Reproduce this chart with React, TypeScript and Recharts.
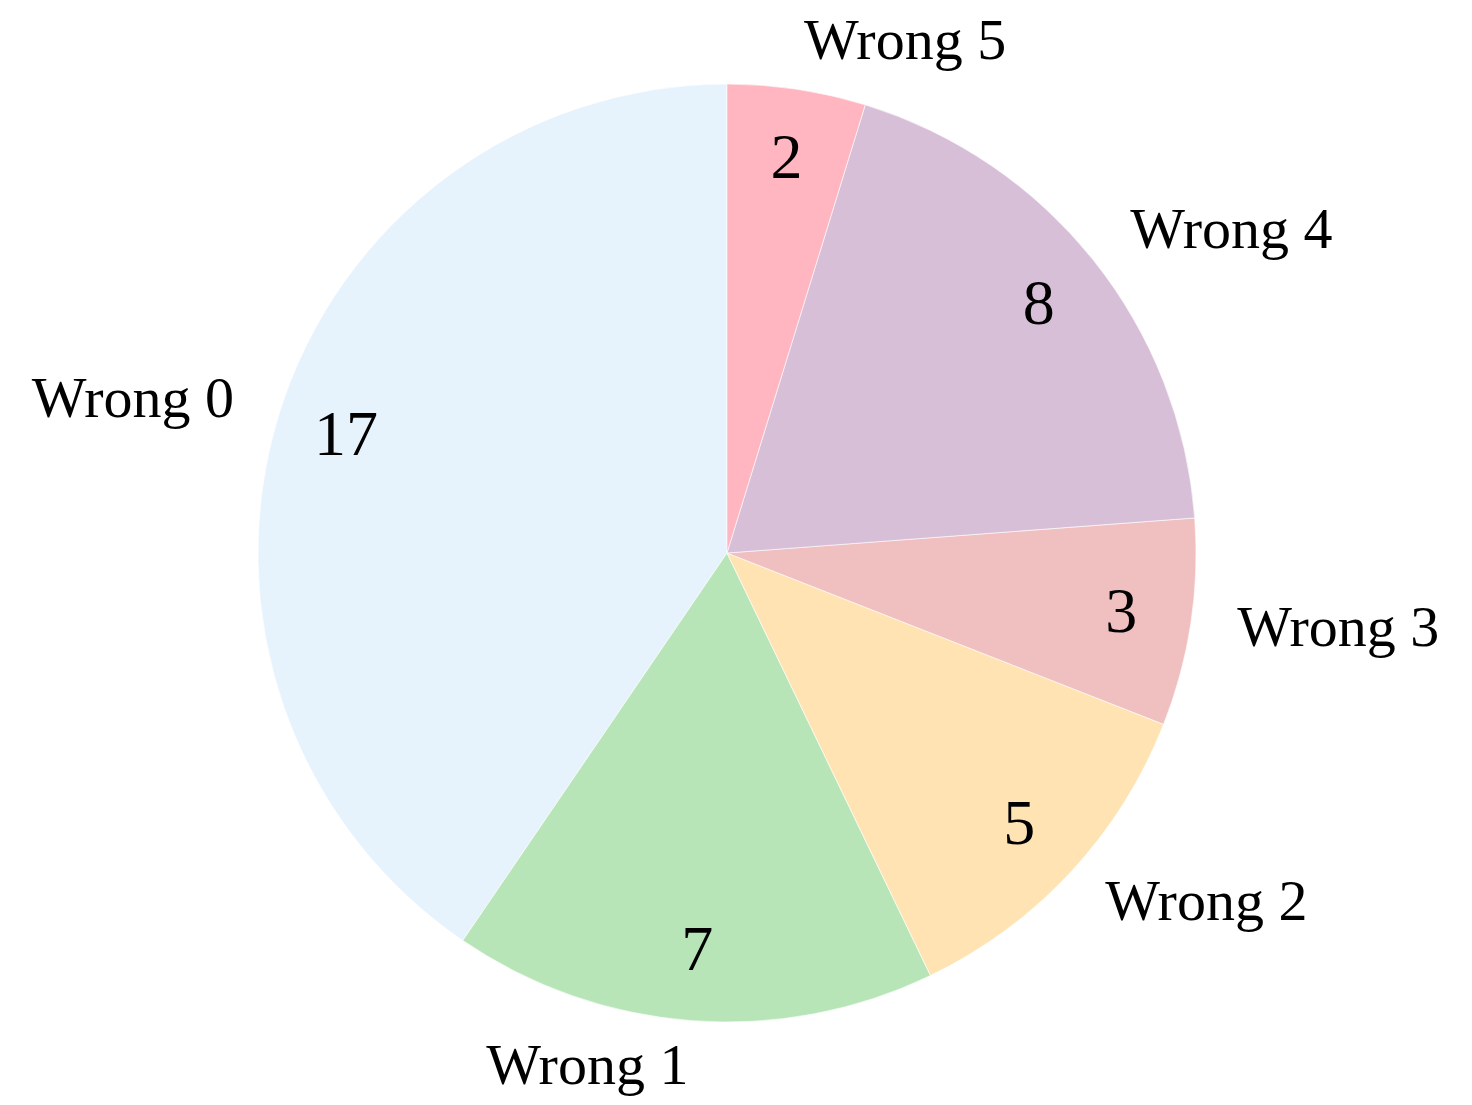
import React from 'react';
import { PieChart, Pie, Cell } from 'recharts';

const labels = ['Wrong 0', 'Wrong 1', 'Wrong 2', 'Wrong 3', 'Wrong 4', 'Wrong 5'];
const counts = [17, 7, 5, 3, 8, 2];
const colors = ['#e6f2fc', '#b8e5b8', '#ffe3b3', '#f0c0c0', '#d8bfd8', '#ffb6c1'];

const data = labels.map((name, i) => ({ name, value: counts[i] }));

const RADIAN = Math.PI / 180;
const FONT = '"Liberation Serif", "Times New Roman", serif';

const renderLabel = (props: any) => {
  const { cx, cy, midAngle, outerRadius, name, value } = props;
  const cos = Math.cos(-midAngle * RADIAN);
  const sin = Math.sin(-midAngle * RADIAN);
  // name outside (1.1 r), count inside (0.85 r)
  const nx = cx + outerRadius * 1.1 * cos;
  const ny = cy + outerRadius * 1.1 * sin;
  const vx = cx + outerRadius * 0.85 * cos;
  const vy = cy + outerRadius * 0.85 * sin;
  return (
    <g>
      <text x={nx} y={ny - 3} textAnchor={nx > cx ? 'start' : 'end'} dominantBaseline="central"
        fontFamily={FONT} fontSize={58} fill="#000">
        {name}
      </text>
      <text x={vx} y={vy - 2} textAnchor="middle" dominantBaseline="central"
        fontFamily={FONT} fontSize={64} fill="#000">
        {value}
      </text>
    </g>
  );
};

const App: React.FC = () => {
  return (
    <div style={{ position: 'absolute', left: 0, top: 0, width: 1472, height: 1105, background: '#fff' }}>
      <PieChart width={1472} height={1105} margin={{ top: 0, right: 0, bottom: 0, left: 0 }}>
        <Pie
          data={data}
          dataKey="value"
          nameKey="name"
          cx={727}
          cy={553}
          outerRadius={469}
          startAngle={90}
          endAngle={450}
          stroke="#ffffff"
          strokeWidth={0.6}
          label={renderLabel}
          labelLine={false}
          isAnimationActive={false}
        >
          {data.map((d, i) => (
            <Cell key={d.name} fill={colors[i]} />
          ))}
        </Pie>
      </PieChart>
    </div>
  );
};

export default App;
